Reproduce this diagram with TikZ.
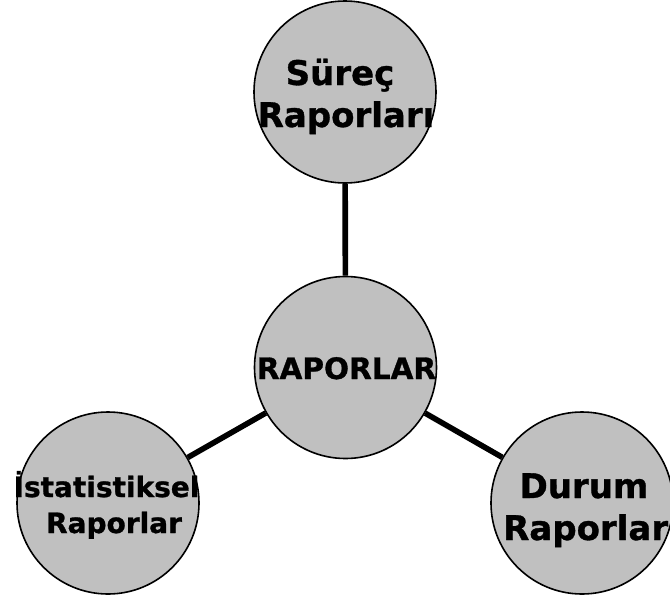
\documentclass[tikz,border=0pt]{standalone}
\usepackage{fontspec}
\setmainfont{DejaVu Sans}[BoldFeatures={FakeBold=1.0}]
\usetikzlibrary{backgrounds}
\definecolor{circfill}{HTML}{C0C0C0}
\tikzset{
  bubble/.style={circle, draw=black, line width=1.6pt, fill=circfill, minimum size=182pt, inner sep=0pt},
  link/.style={line width=5.6pt, draw=black},
  lbl/.style={inner sep=0pt, anchor=base},
  bigtxt/.style={font=\bfseries\fontsize{34}{40}\selectfont},
  midtxt/.style={font=\bfseries\fontsize{29.5}{35}\selectfont},
  smalltxt/.style={font=\bfseries\fontsize{28}{33}\selectfont},
}
\begin{document}
\begin{tikzpicture}[x=1pt,y=-1pt]
\clip (0,0) rectangle (670,595);
\node[bubble] (top) at (345,92) {};
\node[bubble] (mid) at (345.5,367.5) {};
\node[bubble] (left) at (108,503) {};
\node[bubble] (right) at (582,503) {};
\begin{scope}[on background layer]
\fill[white] (0,0) rectangle (670,595);
\draw[link] (mid) -- (top);
\draw[link] (mid) -- (left);
\draw[link] (mid) -- (right);
\end{scope}
\node[lbl, bigtxt] (t1) at (340,85) {Süreç};
\node[lbl, bigtxt] (t2) at (346,127) {Raporları};
\node[lbl, midtxt] (m1) at (346.5,379) {RAPORLAR};
\node[lbl, smalltxt] (l1) at (106.5,497) {İstatistiksel};
\node[lbl, smalltxt] (l2) at (114,533) {Raporlar};
\node[lbl, bigtxt] (r1) at (584,498) {Durum};
\node[lbl, bigtxt, anchor=base west] (r2) at (503,540) {Raporları};
\end{tikzpicture}
\end{document}
